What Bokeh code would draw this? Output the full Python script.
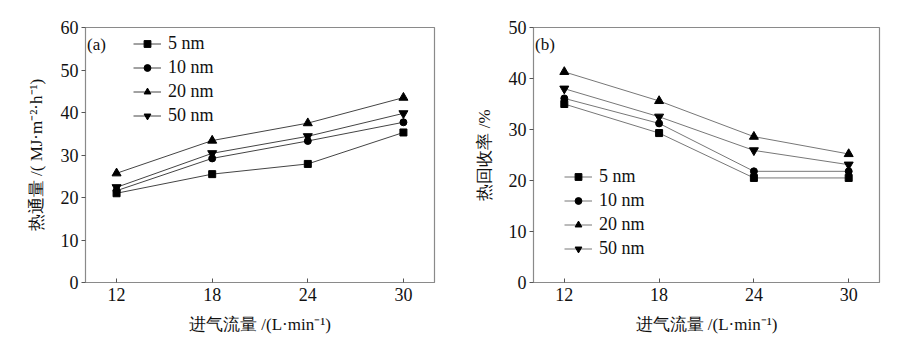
from bokeh.plotting import figure
from bokeh.layouts import row
from bokeh.models import Legend, LegendItem, Label, FixedTicker
from bokeh.embed import file_html
from bokeh.resources import INLINE

flow = [12, 18, 24, 30]
sizes = ["5 nm", "10 nm", "20 nm", "50 nm"]

flux_5 = [21.0, 25.5, 27.9, 35.3]
flux_10 = [21.6, 29.2, 33.3, 37.7]
flux_20 = [25.7, 33.4, 37.5, 43.5]
flux_50 = [22.4, 30.4, 34.4, 39.8]

rec_5 = [35.0, 29.3, 20.5, 20.5]
rec_10 = [36.1, 31.2, 21.8, 21.8]
rec_20 = [41.3, 35.6, 28.6, 25.2]
rec_50 = [38.0, 32.5, 25.9, 23.1]

markers = ["square", "circle", "triangle", "inverted_triangle"]
msizes = [7, 7, 9, 9]

SERIF = "serif"
FRAME = "#8a8a8a"


def make_panel(series, ymax, ylabel, tag, line_color, width, borders, legend_loc, tag_y):
    bl, br, bt, bb = borders
    p = figure(width=width, height=350, output_backend="svg", toolbar_location=None,
               x_range=(10.05, 31.95), y_range=(0, ymax),
               min_border_left=bl, min_border_right=br, min_border_top=bt, min_border_bottom=bb)
    p.grid.visible = False
    p.outline_line_color = FRAME
    p.outline_line_width = 1.2
    p.background_fill_color = "white"
    p.border_fill_color = "white"

    p.xaxis.ticker = FixedTicker(ticks=flow)
    p.yaxis.ticker = FixedTicker(ticks=list(range(0, ymax + 1, 10)))
    for ax in (p.xaxis[0], p.yaxis[0]):
        ax.axis_line_color = FRAME
        ax.major_tick_line_color = "#555555"
        ax.minor_tick_line_color = None
        ax.major_label_text_font = SERIF
        ax.major_label_text_font_size = "18px"
        ax.major_label_text_color = "#111111"
        ax.axis_label_text_font = SERIF
        ax.axis_label_text_font_size = "17px"
        ax.axis_label_text_font_style = "normal"
        ax.axis_label_text_color = "#111111"
    p.xaxis.major_tick_in = 4
    p.xaxis.major_tick_out = 0
    p.xaxis.major_label_standoff = 5
    p.xaxis.axis_label = "进气流量 /(L·min⁻¹)"
    p.xaxis.axis_label_standoff = 11
    p.yaxis.major_tick_in = 0
    p.yaxis.major_tick_out = 4
    p.yaxis.major_label_standoff = 3
    p.yaxis.axis_label = ylabel
    p.yaxis.axis_label_standoff = 12

    items = []
    for ys, name, mk, ms in zip(series, sizes, markers, msizes):
        r1 = p.line(flow, ys, line_color=line_color, line_width=1)
        r2 = p.scatter(flow, ys, marker=mk, size=ms, fill_color="black", line_color="black")
        items.append(LegendItem(label=name, renderers=[r1, r2]))

    leg = Legend(items=items, location=legend_loc, padding=0, margin=0, spacing=0,
                 glyph_width=28, glyph_height=17, label_height=24, label_standoff=7,
                 label_text_font=SERIF, label_text_font_size="18px", label_text_color="#111111",
                 border_line_color=None, background_fill_alpha=0)
    p.add_layout(leg)

    p.add_layout(Label(x=10.15, y=tag_y, text=tag, text_font=SERIF, text_font_size="17px",
                       text_baseline="middle", text_color="#111111"))
    return p


pa = make_panel([flux_5, flux_10, flux_20, flux_50], 60, "热通量 /( MJ·m⁻²·h⁻¹)", "(a)",
                "#444444", 461, (85, 27, 26, 67), (48, 155), 56.0)
pb = make_panel([rec_5, rec_10, rec_20, rec_50], 50, "热回收率 /%", "(b)",
                "#777777", 462, (72, 44, 27, 68), (31, 22), 46.7)

layout = row(pa, pb)
open("out.html", "w").write(file_html(layout, INLINE))
